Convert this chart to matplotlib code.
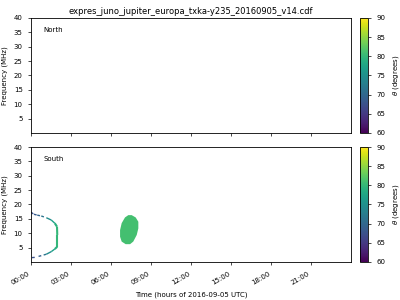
import numpy as np
import matplotlib
matplotlib.use('Agg')
import matplotlib.pyplot as plt
from matplotlib.collections import LineCollection
from matplotlib.ticker import FuncFormatter

title = 'expres_juno_jupiter_europa_txka-y235_20160905_v14.cdf'

# South hemisphere arc: time (h), frequency (MHz), theta (deg)
arc_t = [0.0, 0.22, 0.47, 0.77, 1.15, 1.52, 1.78, 1.95, 1.97, 1.97, 1.78, 1.52, 1.15, 0.77, 0.28, 0.0]
arc_f = [17.3, 16.6, 16.3, 16.0, 15.4, 14.6, 13.5, 12.3, 9.4, 5.3, 4.5, 3.6, 2.7, 2.2, 1.6, 1.5]
arc_theta = [67, 68, 69, 70, 73, 76, 78, 80, 80, 80, 78, 76, 73, 70, 68, 67]

# South hemisphere blob outline: time (h), frequency (MHz)
blob_t = [7.30, 7.55, 7.85, 8.05, 8.05, 7.93, 7.67, 7.43, 7.10, 6.80, 6.68, 6.68, 6.80, 7.05]
blob_f = [16.3, 16.3, 15.5, 14.0, 11.7, 9.4, 7.1, 6.2, 6.2, 7.1, 8.8, 11.1, 13.5, 15.5]
blob_theta = 81

fs = 5
plt.rcParams['font.size'] = fs

fig = plt.figure(figsize=(4, 3), dpi=100)
ax_n = fig.add_axes([0.0775, 0.5567, 0.8, 0.3833])
ax_s = fig.add_axes([0.0775, 0.1267, 0.8, 0.3833], sharex=ax_n)
cax_n = fig.add_axes([0.9, 0.5567, 0.02, 0.3833])
cax_s = fig.add_axes([0.9, 0.1267, 0.02, 0.3833])

cmap = plt.get_cmap('viridis')
norm = plt.Normalize(60, 90)

# arc as coloured segments, sparse (dotted) where theta is low
pts = np.column_stack([arc_t, arc_f])
segs = np.stack([pts[:-1], pts[1:]], axis=1)
seg_theta = 0.5 * (np.array(arc_theta[:-1]) + np.array(arc_theta[1:]))
styles = [(0, (2, 3)) if th < 74 else '-' for th in seg_theta]
widths = [1.5 if th >= 79 else 1.0 for th in seg_theta]
lc = LineCollection(segs, cmap=cmap, norm=norm, linewidths=widths, linestyles=styles)
lc.set_array(seg_theta)
ax_s.add_collection(lc)

ax_s.fill(blob_t, blob_f, color=cmap(norm(blob_theta)), lw=0)

for ax, name in ((ax_n, 'North'), (ax_s, 'South')):
    ax.set_xlim(0, 24)
    ax.set_ylim(0, 40)
    ax.set_yticks(range(5, 41, 5))
    ax.set_xticks(range(0, 24, 3))
    ax.set_ylabel('Frequency (MHz)', fontsize=fs)
    ax.text(0.04, 0.88, name, transform=ax.transAxes, fontsize=fs)
    ax.tick_params(labelsize=fs, length=2.5, width=0.5)
    for sp in ax.spines.values():
        sp.set_linewidth(0.6)

ax_s.xaxis.set_major_formatter(FuncFormatter(lambda v, p: '%02d:00' % v))
plt.setp(ax_n.get_xticklabels(), visible=False)
plt.setp(ax_s.get_xticklabels(), rotation=30, ha='right')
ax_s.set_xlabel('Time (hours of 2016-09-05 UTC)', fontsize=fs)
ax_n.set_title(title, fontsize=6, pad=3)

sm = plt.cm.ScalarMappable(norm=norm, cmap=cmap)
for cax in (cax_n, cax_s):
    cb = fig.colorbar(sm, cax=cax)
    cb.set_ticks(range(60, 91, 5))
    cb.set_label(r'$\theta$ (degrees)', fontsize=fs)
    cb.ax.tick_params(labelsize=fs, length=2.5, width=0.5)
    cb.outline.set_linewidth(0.6)

fig.savefig('out.png', dpi=100)
